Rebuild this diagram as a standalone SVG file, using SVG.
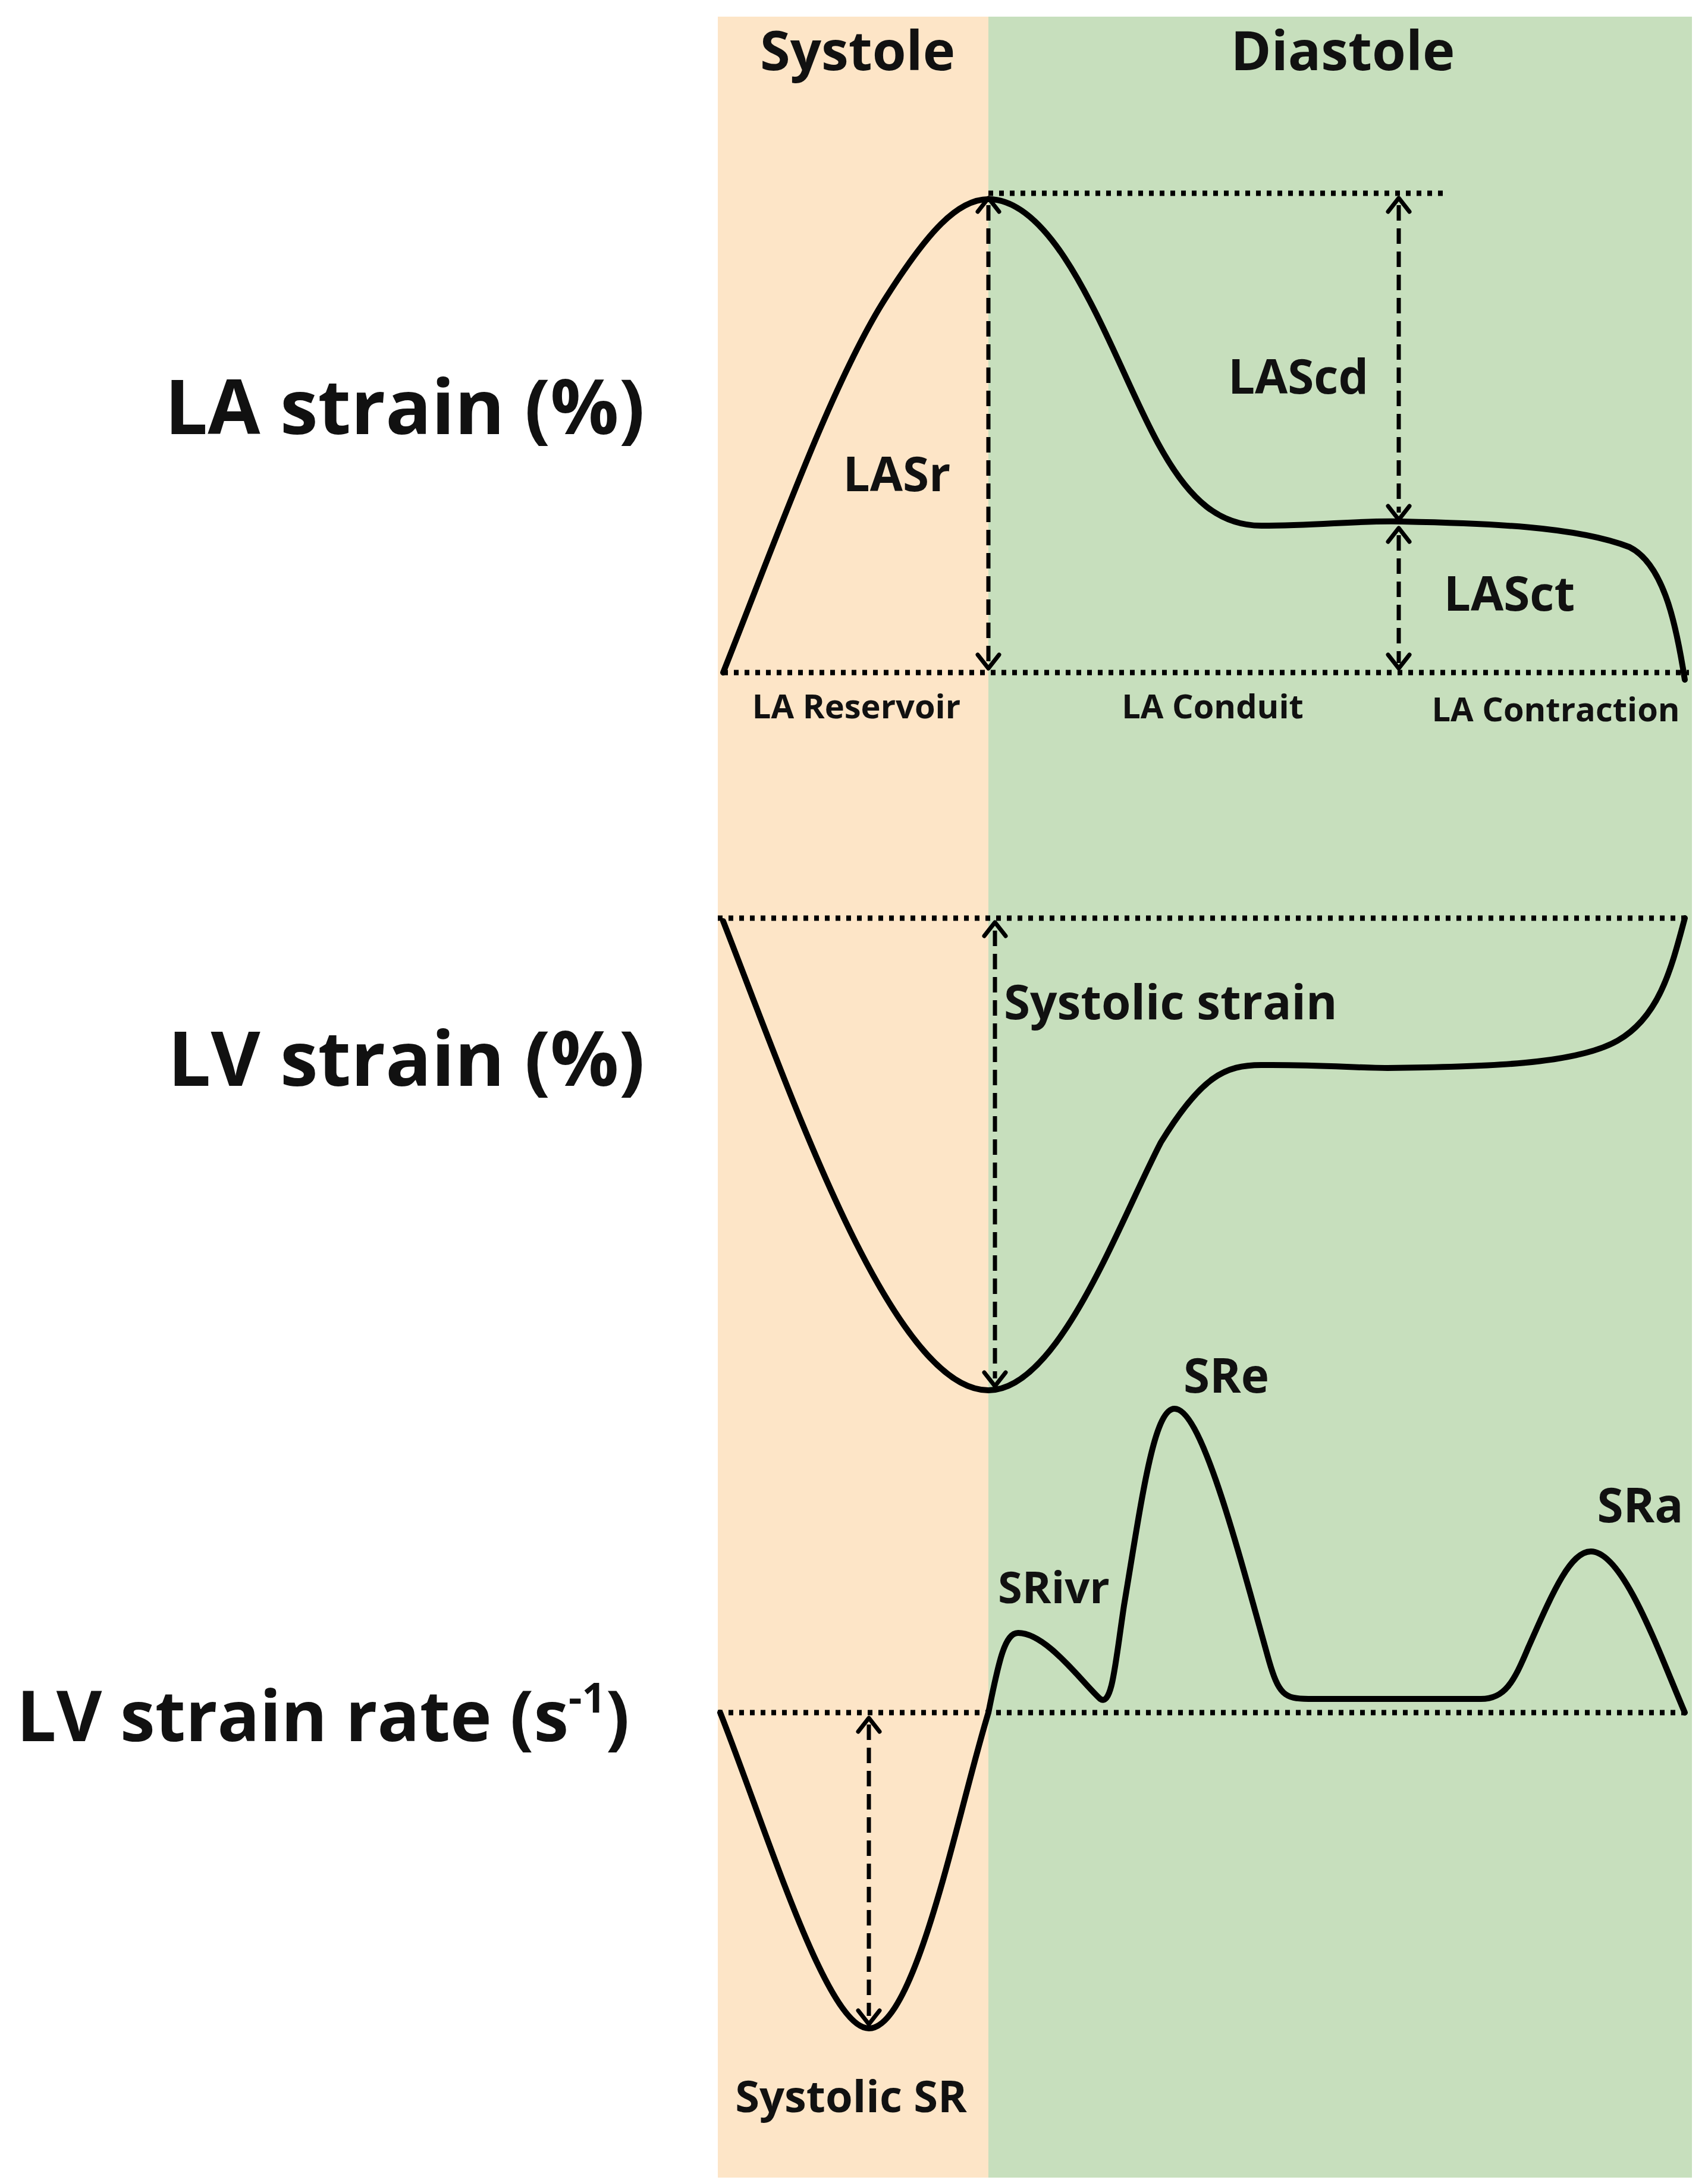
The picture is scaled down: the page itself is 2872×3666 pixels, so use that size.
<svg xmlns="http://www.w3.org/2000/svg" width="2872" height="3666" viewBox="0 0 2872 3666">
<style>
text{font-family:"Open Sans","Liberation Sans",sans-serif;font-weight:bold;fill:#111}
.curve{fill:none;stroke:#000;stroke-width:10;stroke-linejoin:round;stroke-linecap:round}
.dot{fill:none;stroke:#000;stroke-width:9;stroke-dasharray:8 10}
.arr{fill:none;stroke:#000;stroke-width:7;stroke-dasharray:26 13}
.arrh{fill:none;stroke:#000;stroke-width:7;stroke-linecap:round;stroke-linejoin:round}
</style>
<rect width="2872" height="3666" fill="#fff"/>
<rect x="1207" y="28" width="455" height="3634" fill="#FDE5C7"/>
<rect x="1662" y="28" width="1183" height="3634" fill="#C7DFBD"/>
<g id="headers">
<text x="1442" y="118" font-size="92" text-anchor="middle">Systole</text>
<text x="2258" y="118" font-size="92" text-anchor="middle">Diastole</text>
</g>
<g id="axis-labels">
<text x="1084" y="730" font-size="128" text-anchor="end">LA strain (%)</text>
<text x="1084" y="1826" font-size="128" text-anchor="end">LV strain (%)</text>
<text x="28" y="2928" font-size="118">LV strain rate (s<tspan font-size="70" dy="-48">-1</tspan><tspan dy="48">)</tspan></text>
</g>
<g id="connectors">
<path class="dot" d="M1216,1131 H2840 M1662,325 H2428 M1207,1544 H2840 M1207,2880 H2845"/>
<path class="arr" d="M1662,345 V1115 M2352,345 V862 M2352,900 V1115 M1673,1565 V2318 M1461,2900 V3390"/>
<path class="arrh" d="M1644,356 L1662,333 L1680,356 M1644,1101 L1662,1124 L1680,1101 M2334,356 L2352,333 L2370,356 M2334,851 L2352,874 L2370,851 M2334,911 L2352,888 L2370,911 M2334,1101 L2352,1124 L2370,1101 M1655,1574 L1673,1551 L1691,1574 M1655,2308 L1673,2331 L1691,2308 M1443,2912 L1461,2889 L1479,2912 M1443,3381 L1461,3404 L1479,3381"/>
</g>
<g id="la-strain">
<path class="curve" d="M1216,1131 C1300,920 1400,640 1490,500 C1560,390 1610,335 1662,335 C1790,335 1880,630 1952,754 C2000,840 2050,884 2121,884 C2220,884 2280,875 2357,877 C2500,880 2650,885 2740,920 C2800,950 2820,1060 2833,1143"/>
<text x="1508" y="826" font-size="80" text-anchor="middle">LASr</text>
<text x="2183" y="662" font-size="80" text-anchor="middle">LAScd</text>
<text x="2538" y="1027" font-size="80" text-anchor="middle">LASct</text>
<text x="1440" y="1208" font-size="56" text-anchor="middle">LA Reservoir</text>
<text x="2039" y="1208" font-size="56" text-anchor="middle">LA Conduit</text>
<text x="2616" y="1213" font-size="56" text-anchor="middle">LA Contraction</text>
</g>
<g id="lv-strain">
<path class="curve" d="M1216,1549 C1330,1840 1500,2338 1662,2338 C1780,2338 1880,2060 1952,1921 C2020,1810 2060,1791 2121,1791 C2220,1790 2280,1796 2333,1796 C2500,1794 2650,1790 2720,1750 C2790,1710 2810,1630 2833,1544"/>
<text x="1688" y="1714" font-size="80">Systolic strain</text>
</g>
<g id="lv-sr">
<path class="curve" d="M1211,2880 C1290,3080 1390,3411 1461,3411 C1540,3411 1610,3050 1662,2880 C1680,2790 1690,2746 1712,2746 C1760,2746 1820,2830 1850,2857 C1870,2870 1875,2800 1890,2700 C1920,2520 1940,2369 1975,2369 C2020,2369 2080,2600 2133,2790 C2150,2850 2160,2857 2200,2857 L2490,2857 C2530,2857 2545,2830 2570,2770 C2610,2680 2640,2609 2675,2609 C2730,2609 2790,2780 2833,2880"/>
<text x="2062" y="2342" font-size="80" text-anchor="middle">SRe</text>
<text x="2758" y="2560" font-size="80" text-anchor="middle">SRa</text>
<text x="1772" y="2696" font-size="74" text-anchor="middle">SRivr</text>
<text x="1431" y="3552" font-size="74" text-anchor="middle">Systolic SR</text>
</g>
</svg>
